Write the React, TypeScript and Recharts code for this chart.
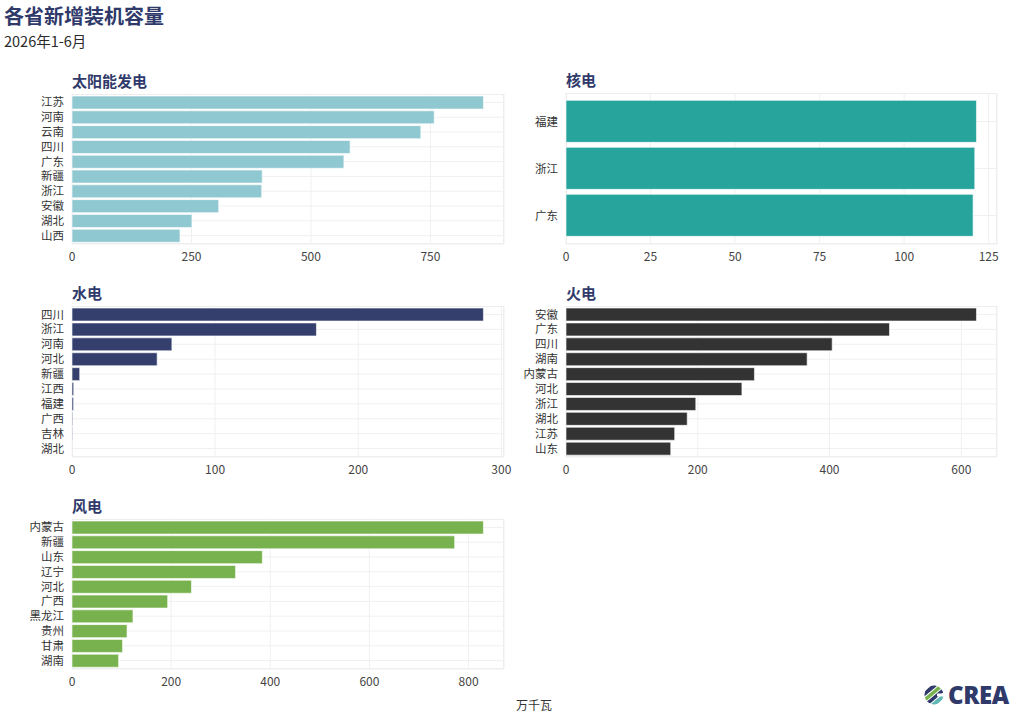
import { Bar, BarChart, CartesianGrid, XAxis, YAxis } from "recharts";

// 各省新增装机容量, 2026年1-6月, 单位: 万千瓦
const solarProvinces = ["江苏", "河南", "云南", "四川", "广东", "新疆", "浙江", "安徽", "湖北", "山西"];
const solarValues = [861, 758, 730, 582, 569, 398, 397, 307, 251, 226];
const solarTicks = [0, 250, 500, 750];

const nuclearProvinces = ["福建", "浙江", "广东"];
const nuclearValues = [121.4, 120.9, 120.4];
const nuclearTicks = [0, 25, 50, 75, 100, 125];

const hydroProvinces = ["四川", "浙江", "河南", "河北", "新疆", "江西", "福建", "广西", "吉林", "湖北"];
const hydroValues = [287.5, 170.8, 69.8, 59.5, 5.4, 1.2, 1.1, 0.5, 0.4, 0.1];
const hydroTicks = [0, 100, 200, 300];

const thermalProvinces = ["安徽", "广东", "四川", "湖南", "内蒙古", "河北", "浙江", "湖北", "江苏", "山东"];
const thermalValues = [623, 491, 404, 366, 286, 267, 197, 184, 165, 159];
const thermalTicks = [0, 200, 400, 600];

const windProvinces = ["内蒙古", "新疆", "山东", "辽宁", "河北", "广西", "黑龙江", "贵州", "甘肃", "湖南"];
const windValues = [830, 772, 384, 330, 241, 193, 123, 111, 102, 94];
const windTicks = [0, 200, 400, 600, 800];

const NAVY = "#2f3a6b";
const FONT = "'Noto Sans CJK SC', 'Noto Sans', sans-serif";

type PanelProps = {
  title: string;
  provinces: string[];
  values: number[];
  ticks: number[];
  color: string;
  plotLeft: number;
  plotTop: number;
  plotWidth: number;
  plotHeight: number;
  pad: number;
  gap: string;
};

const AXIS_WIDTH = 72;
const AXIS_HEIGHT = 30;
const RIGHT_ROOM = 20;

function Panel({
  title,
  provinces,
  values,
  ticks,
  color,
  plotLeft,
  plotTop,
  plotWidth,
  plotHeight,
  pad,
  gap,
}: PanelProps) {
  const data = provinces.map((name, i) => ({ name, value: values[i] }));

  return (
    <>
      <div
        style={{
          position: "absolute",
          left: plotLeft,
          top: plotTop - 22,
          fontSize: 15,
          lineHeight: "18px",
          fontWeight: 700,
          color: NAVY,
        }}
      >
        {title}
      </div>
      <div
        style={{
          position: "absolute",
          left: plotLeft,
          top: plotTop,
          width: plotWidth,
          height: plotHeight,
          border: "1px solid #ebebeb",
          boxSizing: "border-box",
        }}
      />
      <div style={{ position: "absolute", left: plotLeft - AXIS_WIDTH, top: plotTop }}>
        <BarChart
          width={AXIS_WIDTH + plotWidth + RIGHT_ROOM}
          height={plotHeight + AXIS_HEIGHT}
          data={data}
          layout="vertical"
          margin={{ top: 0, right: RIGHT_ROOM, bottom: 0, left: 0 }}
          barCategoryGap={gap}
        >
          <CartesianGrid stroke="#f0f0f0" />
          <XAxis
            type="number"
            domain={[0, (max: number) => max * 1.05]}
            ticks={ticks}
            interval={0}
            height={AXIS_HEIGHT}
            axisLine={false}
            tickLine={false}
            tick={{ fill: "#444", fontSize: 12, fontFamily: FONT }}
          />
          <YAxis
            type="category"
            dataKey="name"
            width={AXIS_WIDTH}
            interval={0}
            axisLine={false}
            tickLine={false}
            padding={{ top: pad, bottom: pad }}
            tick={{ fill: "#333", fontSize: 11.5, fontFamily: FONT }}
          />
          <Bar
            dataKey="value"
            fill={color}
            stroke="rgba(255,255,255,0.6)"
            strokeWidth={1}
            isAnimationActive={false}
          />
        </BarChart>
      </div>
    </>
  );
}

function CreaLogo() {
  return (
    <div style={{ position: "absolute", left: 924, top: 684, display: "flex", alignItems: "center" }}>
      <svg width={20} height={20} viewBox="0 0 20 20">
        <defs>
          <clipPath id="creaClip">
            <circle cx={10} cy={10} r={9.5} />
          </clipPath>
        </defs>
        <g clipPath="url(#creaClip)" transform="rotate(-40 10 10)">
          <rect x={-4} y={1} width={28} height={4} fill="#2f3a6b" />
          <rect x={-4} y={6} width={28} height={3.5} fill="#77b24e" />
          <rect x={-4} y={10.5} width={28} height={3.5} fill="#2f3a6b" />
          <rect x={-4} y={15} width={28} height={4} fill="#5fb8b5" />
        </g>
        <rect x={13} y={8.5} width={8} height={3} fill="#ffffff" />
      </svg>
      <span
        style={{
          marginLeft: 4,
          fontFamily: "'Open Sans', sans-serif",
          fontWeight: 800,
          fontSize: 24,
          lineHeight: "22px",
          color: NAVY,
          letterSpacing: -0.4,
        }}
      >
        CREA
      </span>
    </div>
  );
}

export default function App() {
  return (
    <div
      style={{
        position: "absolute",
        left: 0,
        top: 0,
        width: 1024,
        height: 717,
        background: "#ffffff",
        fontFamily: FONT,
        overflow: "hidden",
      }}
    >
      <div
        style={{
          position: "absolute",
          left: 4,
          top: 4,
          fontSize: 20,
          lineHeight: "24px",
          fontWeight: 700,
          color: NAVY,
        }}
      >
        各省新增装机容量
      </div>
      <div style={{ position: "absolute", left: 4, top: 32, fontSize: 14.5, lineHeight: "18px", color: "#2b2b2b" }}>
        2026年1-6月
      </div>

      <Panel
        title="太阳能发电"
        provinces={solarProvinces}
        values={solarValues}
        ticks={solarTicks}
        color="#8fc8d0"
        plotLeft={72}
        plotTop={94}
        plotWidth={432}
        plotHeight={150}
        pad={1}
        gap="7%"
      />
      <Panel
        title="核电"
        provinces={nuclearProvinces}
        values={nuclearValues}
        ticks={nuclearTicks}
        color="#27a59c"
        plotLeft={566}
        plotTop={93}
        plotWidth={431}
        plotHeight={151}
        pad={5}
        gap="5%"
      />
      <Panel
        title="水电"
        provinces={hydroProvinces}
        values={hydroValues}
        ticks={hydroTicks}
        color="#343f6e"
        plotLeft={72}
        plotTop={306}
        plotWidth={432}
        plotHeight={151}
        pad={1}
        gap="7%"
      />
      <Panel
        title="火电"
        provinces={thermalProvinces}
        values={thermalValues}
        ticks={thermalTicks}
        color="#333333"
        plotLeft={566}
        plotTop={306}
        plotWidth={431}
        plotHeight={151}
        pad={1}
        gap="7%"
      />
      <Panel
        title="风电"
        provinces={windProvinces}
        values={windValues}
        ticks={windTicks}
        color="#77b24e"
        plotLeft={72}
        plotTop={519}
        plotWidth={432}
        plotHeight={150}
        pad={1}
        gap="7%"
      />

      <div
        style={{
          position: "absolute",
          left: 534,
          top: 697,
          transform: "translateX(-50%)",
          fontSize: 12,
          lineHeight: "16px",
          color: "#333",
        }}
      >
        万千瓦
      </div>
      <CreaLogo />
    </div>
  );
}
